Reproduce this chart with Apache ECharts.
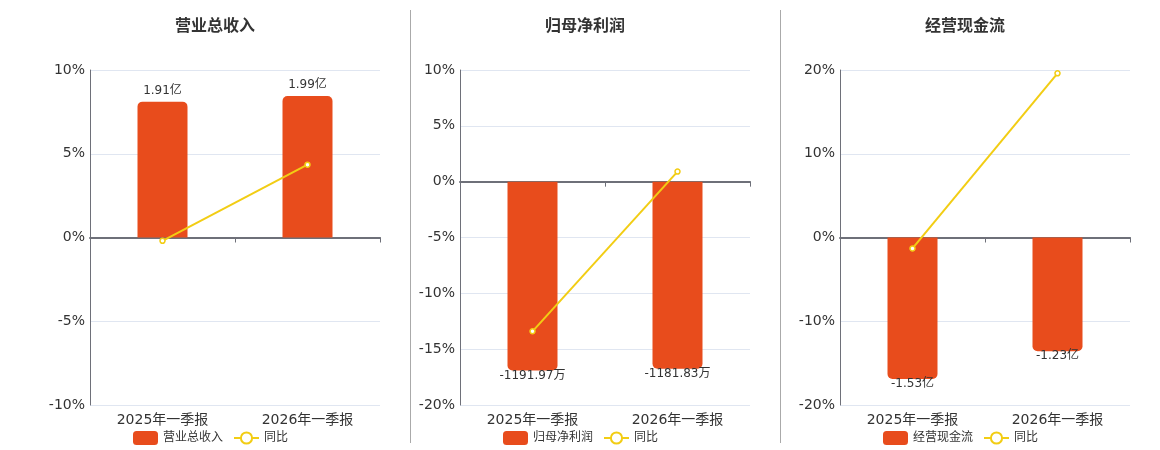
<!DOCTYPE html>
<html>
<head>
<meta charset="utf-8">
<script src="https://cdn.jsdelivr.net/npm/echarts@6/dist/echarts.min.js"></script>
<style>
    html, body { margin: 0; padding: 0; background: #fff; }
    #main { width: 1160px; height: 450px; }
</style>
</head>
<body>
<div id="main"></div>
<script>
// 数据
var categories = ["2025年一季报", "2026年一季报"];
var titles = ["营业总收入", "归母净利润", "经营现金流"];
var barValues = [[1.91, 1.99], [-1191.97, -1181.83], [-1.53, -1.23]];
var barUnits = ["亿", "万", "亿"];
var yoyValues = [[-0.2, 4.35], [-13.4, 0.9], [-1.3, 19.6]];
var pctMin = [-10, -20, -20];
var pctMax = [10, 10, 20];
var pctStep = [5, 5, 10];

var chart_view = (function () {
    var my_chart = echarts.init(document.getElementById("main"));
    var lefts = [90, 460, 840];
    var centers = [210, 580, 960];
    var barColor = "#e84c1c";
    var lineColor = "#f2cd14";

    var option = {
        animation: false,
        textStyle: { fontFamily: "'DejaVu Sans', 'Noto Sans CJK SC', sans-serif" },
        title: [], legend: [], grid: [], xAxis: [], yAxis: [], series: [],
        graphic: [
            { type: "line", shape: { x1: 410.5, y1: 10, x2: 410.5, y2: 443 }, style: { stroke: "#aaa", lineWidth: 1 } },
            { type: "line", shape: { x1: 780.5, y1: 10, x2: 780.5, y2: 443 }, style: { stroke: "#aaa", lineWidth: 1 } }
        ]
    };

    for (var i = 0; i < 3; i++) {
        // 柱子所用隐藏轴：与百分比轴零点对齐
        var maxAbs = Math.max.apply(null, barValues[i].map(Math.abs));
        var extent = Math.max(Math.abs(pctMin[i]), pctMax[i]);
        var k = maxAbs / (0.845 * extent);
        var unit = barUnits[i];
        var positive = barValues[i][0] >= 0;

        option.title.push({
            text: titles[i],
            left: centers[i],
            top: 12,
            textAlign: "center",
            textStyle: { fontSize: 16, fontWeight: "bold", color: "#333", fontFamily: "'Noto Sans CJK SC', sans-serif" }
        });
        option.legend.push({
            data: [titles[i], "同比"],
            left: centers[i] - 82,
            top: 426,
            itemWidth: 25,
            itemHeight: 14,
            itemGap: 10,
            textStyle: { fontSize: 12, color: "#333" }
        });
        option.grid.push({ left: lefts[i], width: 290, top: 70, height: 335 });
        option.xAxis.push({
            type: "category",
            gridIndex: i,
            data: categories,
            axisLine: { onZero: true, lineStyle: { color: "#6e7079", width: 2 } },
            axisTick: { show: true, lineStyle: { color: "#6e7079" } },
            axisLabel: { fontSize: 14, color: "#333", margin: 8 },
            position: "bottom"
        });
        option.yAxis.push({
            type: "value",
            gridIndex: i,
            min: pctMin[i],
            max: pctMax[i],
            interval: pctStep[i],
            axisLine: { show: true, lineStyle: { color: "#6e7079" } },
            splitLine: { lineStyle: { color: "#e0e6f1" } },
            axisLabel: { fontSize: 14, color: "#333", margin: 5, formatter: "{value}%" }
        });
        option.yAxis.push({
            type: "value",
            gridIndex: i,
            min: pctMin[i] * k,
            max: pctMax[i] * k,
            show: false,
            splitLine: { show: false }
        });
        option.series.push({
            name: titles[i],
            type: "bar",
            xAxisIndex: i,
            yAxisIndex: i * 2 + 1,
            data: barValues[i],
            barWidth: 50,
            itemStyle: { color: barColor, borderRadius: positive ? [5, 5, 0, 0] : [0, 0, 5, 5] },
            label: {
                show: true,
                position: positive ? "top" : "bottom",
                distance: positive ? 5 : -1,
                fontSize: 12,
                color: "#333",
                formatter: function (p) { return p.value + this; }.bind(unit)
            }
        });
        option.series.push({
            name: "同比",
            type: "line",
            xAxisIndex: i,
            yAxisIndex: i * 2,
            data: yoyValues[i],
            symbol: "circle",
            symbolSize: 5,
            itemStyle: { color: "#fff", borderColor: lineColor, borderWidth: 1.5 },
            lineStyle: { color: lineColor, width: 2 },
            z: 5
        });
    }

    my_chart.setOption(option);
    return my_chart;
})();
</script>
</body>
</html>
